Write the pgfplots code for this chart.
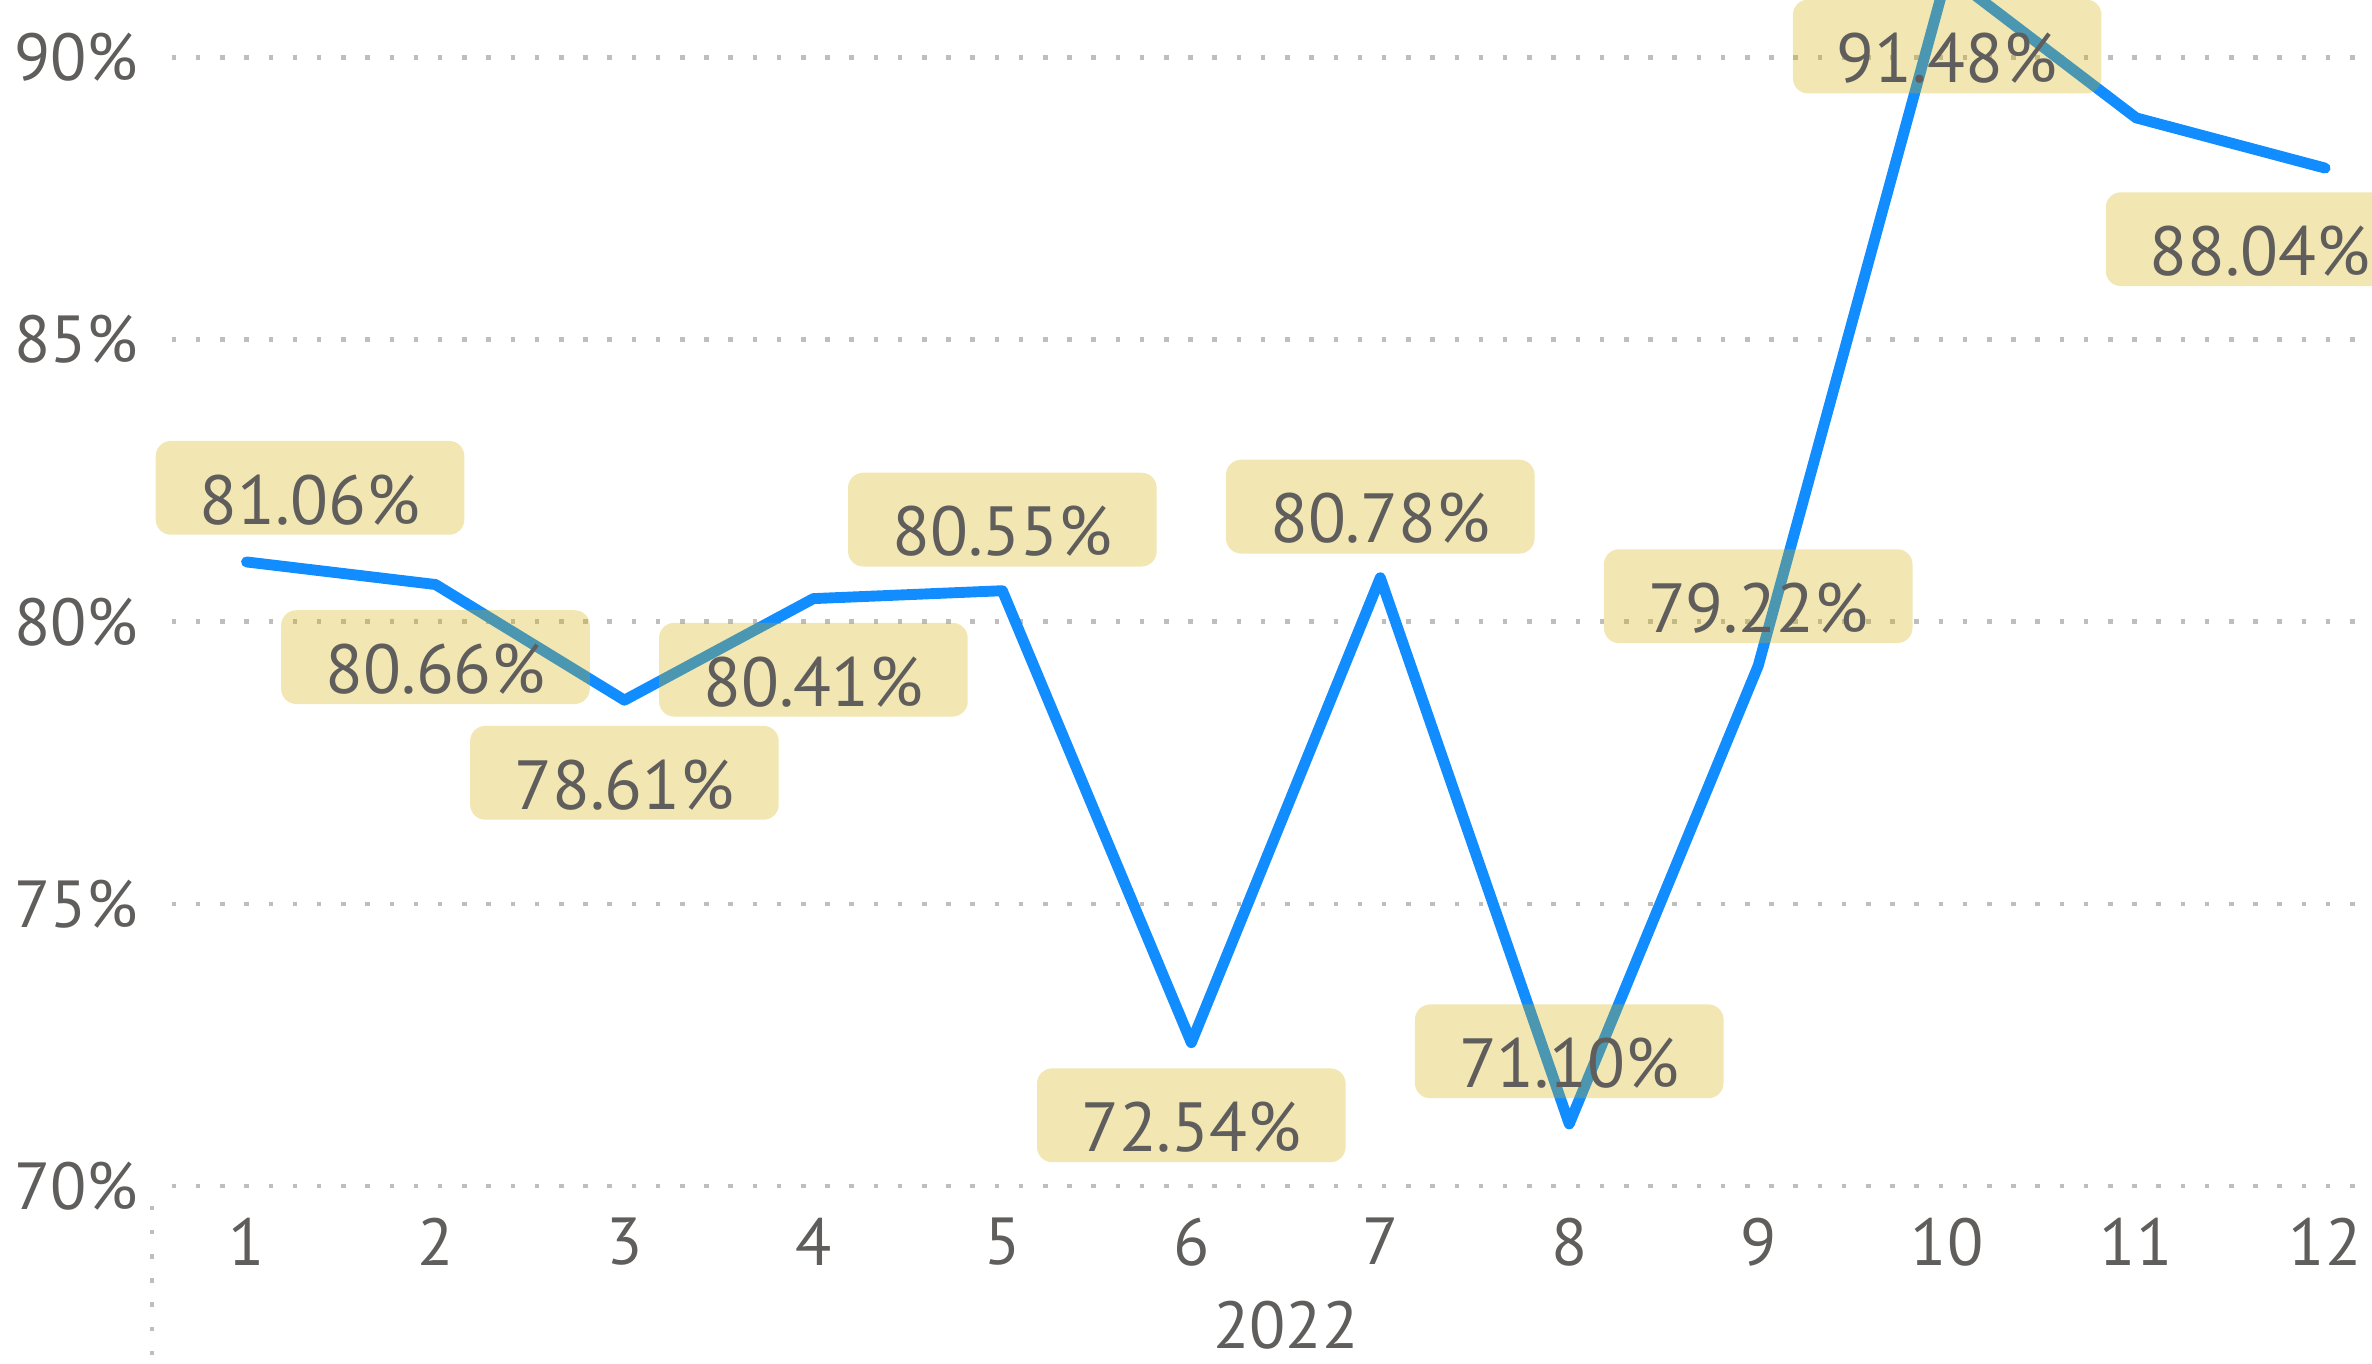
\documentclass[border=0pt]{standalone}
\usepackage{fontspec}
\setmainfont{PT Sans}
\usepackage{pgfplots}
\usepackage{pgfplotstable}
\pgfplotsset{compat=1.18}

\definecolor{pbiblue}{HTML}{118DFF}
\definecolor{boxgold}{RGB}{211,175,0}
\definecolor{textgray}{HTML}{605E5C}
\definecolor{gridgray}{HTML}{C0BEBC}

\tikzset{
  dotgrid/.style={color=gridgray, line width=1.5pt, dash pattern=on 1.5pt off 6.5pt, dash phase=1.5pt},
}

% monthly values, 2022
\pgfplotstableread{
x y
1 81.06
2 80.66
3 78.61
4 80.41
5 80.55
6 72.54
7 80.78
8 71.10
9 79.22
10 91.48
11 88.93
12 88.04
}\ratedata

% data labels (month 11 has none): anchor y, shown value, box offsets in pt
% (month 10 lies above the axis top, so its label is anchored at 90.5)
\pgfplotstableread{
x py v dx dy
1 81.06 81.06 21 24.5
2 80.66 80.66 0 -24
3 78.61 78.61 0 -24
4 80.41 80.41 0 -23.5
5 80.55 80.55 0 23.5
6 72.54 72.54 0 -24
7 80.78 80.78 0 23.5
8 71.10 71.10 0 24
9 79.22 79.22 0 23
10 90.5 91.48 0 -5.7
12 88.04 88.04 -21.5 -23.5
}\labeldata

\begin{document}
\begin{tikzpicture}
\begin{axis}[
  at={(50.25pt,58.5pt)}, anchor=south west,
  scale only axis,
  width=733.75pt, height=392pt,
  xmin=0.5, xmax=12.2483,
  ymin=70, ymax=91.019,
  xtick={1,...,12},
  ytick={70,75,80,85,90},
  /pgf/number format/assume math mode=true,
  yticklabel={\pgfmathprintnumber{\tick}\%},
  axis line style={draw=none},
  major tick length=0pt,
  ymajorgrids,
  grid style={dotgrid},
  tick label style={font=\fontsize{22}{22}\selectfont, text=textgray},
  yticklabel style={xshift=-1pt},
  xticklabel style={yshift=-7pt},
  xlabel={2022},
  every axis x label/.style={at={(axis description cs:0.5107,0)}, anchor=center,
    yshift=-46pt, font=\fontsize{22}{22}\selectfont, text=textgray},
]
\addplot[pbiblue, line width=3.6pt, line join=round, line cap=round, mark=none]
  table[x=x, y=y]{\ratedata};

\addplot[draw=none, mark=none,
  point meta=explicit,
  visualization depends on={\thisrow{dx} \as \ldx},
  visualization depends on={\thisrow{dy} \as \ldy},
  nodes near coords={\pgfmathprintnumber[fixed,fixed zerofill,precision=2]{\pgfplotspointmeta}\%},
  every node near coord/.append style={
    anchor=center, xshift=\ldx pt, yshift=\ldy pt,
    fill=boxgold, fill opacity=0.3, text opacity=1, text=textgray,
    rounded corners=5pt, minimum width=102pt, minimum height=31pt,
    text height=24pt, text depth=0pt, inner sep=0pt,
    font=\fontsize{23}{23}\selectfont},
] table[x=x, y=py, meta=v]{\labeldata};
\end{axis}
\draw[dotgrid] (current axis.south west) -- ++(0,-58.5pt);
\pgfresetboundingbox
\useasboundingbox (0,0) rectangle (784pt,450.5pt);
\end{tikzpicture}
\end{document}
